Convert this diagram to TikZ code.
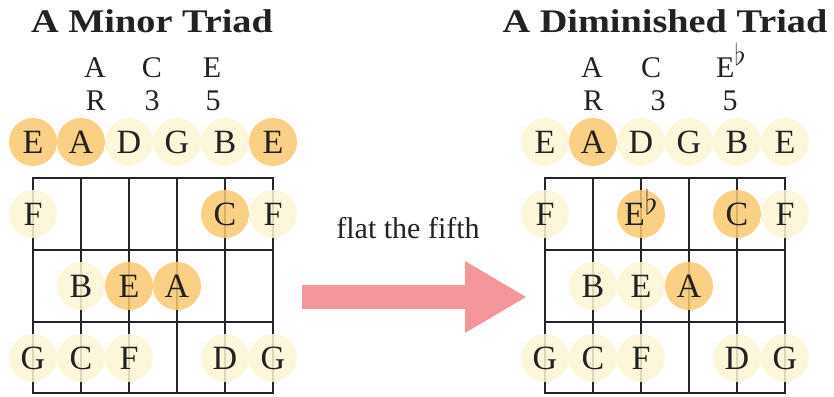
\RequirePackage{fix-cm}
\documentclass[tikz,border=0pt]{standalone}
\usepackage{fontspec}
\setmainfont{Liberation Serif}
\newfontfamily\titlefont[FakeStretch=1.16]{Liberation Serif}
\definecolor{gridcol}{HTML}{262626}
\definecolor{lightnote}{HTML}{FCF6D4}
\definecolor{chordnote}{HTML}{F9C86E}
\definecolor{arrowcol}{HTML}{F4979A}
\definecolor{inkcol}{HTML}{222222}
% E-flat with a full-size raised flat sign that adds no height to the box
\newcommand{\eflat}[1]{E\raisebox{#1}[0pt][0pt]{$\flat$}}
\tikzset{
  fretline/.style={draw=gridcol, line width=2.9pt, line cap=rect},
  note/.style={circle, minimum size=48pt, inner sep=0pt, fill=lightnote,
    fill opacity=0.85, text opacity=1, text=inkcol,
    font=\fontsize{34}{34}\selectfont},
  chord/.style={note, fill=chordnote},
  heading/.style={anchor=base, text=inkcol, font=\titlefont\bfseries\fontsize{33}{33}\selectfont},
  degree/.style={anchor=base, text=inkcol, font=\fontsize{30}{30}\selectfont},
  caption/.style={anchor=base, text=inkcol, font=\fontsize{30}{30}\selectfont},
}
\begin{document}
\begin{tikzpicture}[x=1pt, y=-1pt]
\useasboundingbox (0,0) rectangle (834,396);

% ---------- fretboards (left at x0 = 33, right at x0 = 545) ----------
\foreach \xo in {33,545} {
  \foreach \s in {0,...,5}
    \draw[fretline] (\xo+48*\s,178) -- (\xo+48*\s,393);
  \foreach \fy in {178,250,322,393}
    \draw[fretline] (\xo,\fy) -- (\xo+240,\fy);
}

% ---------- A minor triad ----------
\node[heading] (titleL) at (152,33) {A Minor Triad};
\node[degree] (nA) at (95,77) {A};
\node[degree] (nC) at (152,77) {C};
\node[degree] (nE) at (212,77) {E};
\node[degree] (dR) at (96,110) {R};
\node[degree] (d3) at (152,110) {3};
\node[degree] (d5) at (213,110) {5};

% open strings
\node[chord] (L01) at (33,142)  {E};
\node[chord] (L02) at (81,142)  {A};
\node[note]  (L03) at (129,142) {D};
\node[note]  (L04) at (177,142) {G};
\node[note]  (L05) at (225,142) {B};
\node[chord] (L06) at (273,142) {E};
% first fret
\node[note]  (L11) at (33,214)  {F};
\node[chord] (L15) at (225,214) {C};
\node[note]  (L16) at (273,214) {F};
% second fret
\node[note]  (L22) at (81,286)  {B};
\node[chord] (L23) at (129,286) {E};
\node[chord] (L24) at (177,286) {A};
% third fret
\node[note]  (L31) at (33,358)  {G};
\node[note]  (L32) at (81,358)  {C};
\node[note]  (L33) at (129,358) {F};
\node[note]  (L35) at (225,358) {D};
\node[note]  (L36) at (273,358) {G};

% ---------- transition arrow ----------
\node[caption] (flat) at (408,238) {flat the fifth};
\coordinate (arrTail) at (302,297);
\coordinate (arrTip) at (526,297);
\fill[arrowcol] (arrTail) ++(0,-12) -- (465,285) -- (465,261) -- (arrTip)
  -- (465,333) -- (465,309) -- (302,309) -- cycle;

% ---------- A diminished triad ----------
\node[heading] (titleR) at (665,33) {A Diminished Triad};
\node[degree] (mA) at (592,77) {A};
\node[degree] (mC) at (651,77) {C};
\node[degree] (mE) at (731,77) {\eflat{12pt}};
\node[degree] (eR) at (593,110) {R};
\node[degree] (e3) at (658,110) {3};
\node[degree] (e5) at (730,110) {5};

% open strings
\node[note]  (R01) at (545,142) {E};
\node[chord] (R02) at (593,142) {A};
\node[note]  (R03) at (641,142) {D};
\node[note]  (R04) at (689,142) {G};
\node[note]  (R05) at (737,142) {B};
\node[note]  (R06) at (785,142) {E};
% first fret
\node[note]  (R11) at (545,214) {F};
\node[chord] (R13) at (641,214) {\eflat{11pt}};
\node[chord] (R15) at (737,214) {C};
\node[note]  (R16) at (785,214) {F};
% second fret
\node[note]  (R22) at (593,286) {B};
\node[note]  (R23) at (641,286) {E};
\node[chord] (R24) at (689,286) {A};
% third fret
\node[note]  (R31) at (545,358) {G};
\node[note]  (R32) at (593,358) {C};
\node[note]  (R33) at (641,358) {F};
\node[note]  (R35) at (737,358) {D};
\node[note]  (R36) at (785,358) {G};
\end{tikzpicture}
\end{document}
